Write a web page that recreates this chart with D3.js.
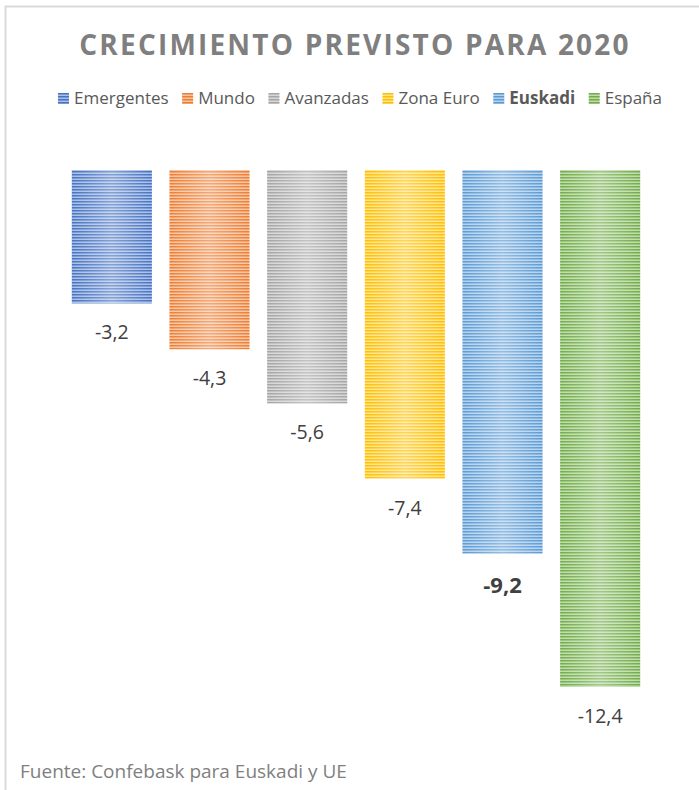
<!DOCTYPE html>
<html>
<head>
<meta charset="utf-8">
<script src="https://cdn.jsdelivr.net/npm/d3@7"></script>
<style>
  html, body { margin: 0; padding: 0; background: #fff; }
  svg { display: block; }
</style>
</head>
<body>
<svg id="chart" width="699" height="790"></svg>
<script>
const categories = ["Emergentes", "Mundo", "Avanzadas", "Zona Euro", "Euskadi", "España"];
const values = [-3.2, -4.3, -5.6, -7.4, -9.2, -12.4];
const colors = ["#4472c4", "#ed7d31", "#a5a5a5", "#ffc000", "#5b9bd5", "#70ad47"];
const highlighted = ["Euskadi"];
const titleText = "CRECIMIENTO PREVISTO PARA 2020";
const sourceText = "Fuente: Confebask para Euskadi y UE";

const data = categories.map((c, i) => ({ cat: c, value: values[i], color: colors[i], bold: highlighted.includes(c) }));

const svg = d3.select("#chart");
const W = 699, H = 790;
const FONT = "'Open Sans', 'Noto Sans', sans-serif";

// frame (chart area border, cropped at right/bottom)
svg.append("line").attr("x1", 5).attr("x2", W).attr("y1", 6.5).attr("y2", 6.5)
  .attr("stroke", "#d9d9d9").attr("stroke-width", 2);
svg.append("line").attr("x1", 5.5).attr("x2", 5.5).attr("y1", 6).attr("y2", H)
  .attr("stroke", "#d9d9d9").attr("stroke-width", 2);

const defs = svg.append("defs");
const hg = defs.append("linearGradient").attr("id", "hgrad").attr("x1", 0).attr("x2", 1).attr("y1", 0).attr("y2", 0);
hg.append("stop").attr("offset", "0%").attr("stop-color", "#fff").attr("stop-opacity", 0);
hg.append("stop").attr("offset", "50%").attr("stop-color", "#fff").attr("stop-opacity", 0.35);
hg.append("stop").attr("offset", "100%").attr("stop-color", "#fff").attr("stop-opacity", 0);

data.forEach((d, i) => {
  const p = defs.append("pattern").attr("id", "pat" + i)
    .attr("patternUnits", "userSpaceOnUse").attr("width", 8).attr("height", 3);
  p.append("rect").attr("width", 8).attr("height", 3).attr("fill", d.color);
  p.append("rect").attr("y", 1.5).attr("width", 8).attr("height", 1.5).attr("fill", "#fff").attr("opacity", 0.55);
});

const x = d3.scaleBand().domain(categories).range([63, 649]).paddingInner(0.18).paddingOuter(0.09);
const y = d3.scaleLinear().domain([0, -12.4]).range([170, 687]);

// title
svg.append("text")
  .attr("x", 355).attr("y", 55)
  .attr("text-anchor", "middle")
  .attr("font-family", FONT).attr("font-size", 28).attr("font-weight", 700)
  .attr("letter-spacing", 2.2)
  .attr("fill", "#7f7f7f")
  .text(titleText);

// legend
const leg = svg.append("g");
const items = leg.selectAll("g").data(data).enter().append("g");
items.append("rect").attr("width", 11).attr("height", 11).attr("y", 93)
  .attr("fill", (d, i) => `url(#pat${i})`);
items.append("text").attr("x", 16).attr("y", 104)
  .attr("font-family", FONT).attr("font-size", 17)
  .attr("font-weight", d => d.bold ? 700 : 400)
  .attr("fill", "#595959")
  .text(d => d.cat);
const widths = [];
items.each(function() { widths.push(this.getBBox().width); });
const startX = 58, endX = 662;
const total = d3.sum(widths);
const gap = (endX - startX - total) / (data.length - 1);
let cx = startX;
items.each(function(d, i) {
  d3.select(this).attr("transform", `translate(${cx},0)`);
  cx += widths[i] + gap;
});

// bars
const bars = svg.append("g");
bars.selectAll("g.bar").data(data).enter().append("g").attr("class", "bar")
  .each(function(d, i) {
    const g = d3.select(this);
    const bx = x(d.cat), bw = x.bandwidth();
    const y0 = y(0), y1 = y(d.value);
    g.append("rect").attr("x", bx).attr("y", y0).attr("width", bw).attr("height", y1 - y0)
      .attr("fill", `url(#pat${i})`);
    g.append("rect").attr("x", bx).attr("y", y0).attr("width", bw).attr("height", y1 - y0)
      .attr("fill", "url(#hgrad)");
  });

// value labels
const fmt = v => d3.format(".1f")(v).replace(".", ",").replace("−", "-");
svg.append("g").selectAll("text").data(data).enter().append("text")
  .attr("x", d => x(d.cat) + x.bandwidth() / 2)
  .attr("y", d => y(d.value) + (d.bold ? 39 : 36))
  .attr("text-anchor", "middle")
  .attr("font-family", FONT)
  .attr("font-size", d => d.bold ? 22 : 19.5)
  .attr("font-weight", d => d.bold ? 700 : 400)
  .attr("fill", "#404040")
  .text(d => fmt(d.value));

// source
svg.append("text").attr("x", 20).attr("y", 778)
  .attr("font-family", FONT).attr("font-size", 19)
  .attr("fill", "#7f7f7f")
  .text(sourceText);
</script>
</body>
</html>
